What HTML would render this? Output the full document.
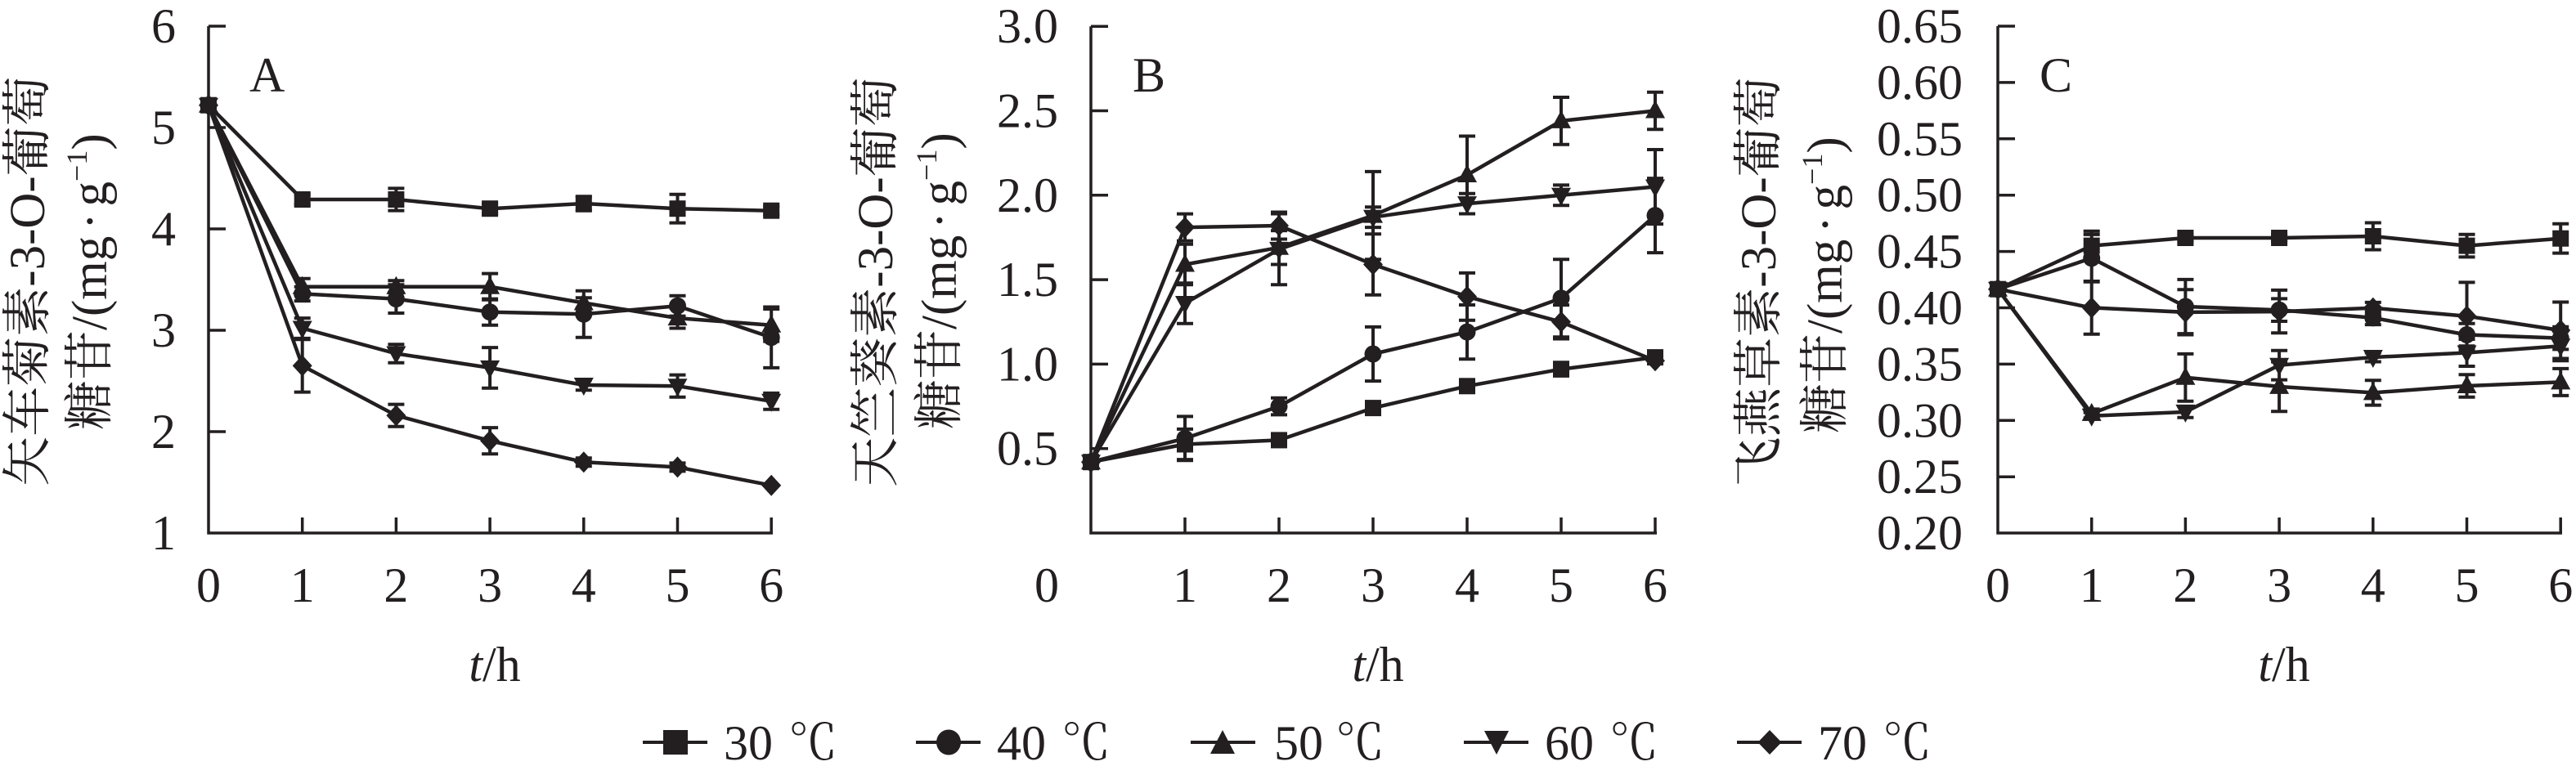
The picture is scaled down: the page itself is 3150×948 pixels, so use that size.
<!DOCTYPE html>
<html><head><meta charset="utf-8"><style>
html,body{margin:0;padding:0;background:#fff;}
svg{display:block;}
text{font-family:"Liberation Serif","Noto Serif CJK SC",serif;fill:#231f20;}
.cjk{font-family:"Liberation Serif","Noto Serif CJK SC",serif;}
</style></head><body>
<svg xmlns="http://www.w3.org/2000/svg" xmlns:xlink="http://www.w3.org/1999/xlink" width="3150" height="948" viewBox="0 0 3150 948">
<rect width="3150" height="948" fill="#fff"/>
<defs>
<rect id="m30" x="-10" y="-10" width="20" height="20" fill="#231f20"/>
<circle id="m40" r="10.5" fill="#231f20"/>
<polygon id="m50" points="0,-13 12,9 -12,9" fill="#231f20"/>
<polygon id="m60" points="0,13 12,-9 -12,-9" fill="#231f20"/>
<polygon id="m70" points="0,-13 12,0 0,13 -12,0" fill="#231f20"/>
</defs>

<!-- ================= PANEL A ================= -->
<g stroke="#231f20" stroke-width="3.5" fill="none">
<path d="M255 32V652H945"/>
<path d="M255 32h21M255 156h21M255 280h21M255 404h21M255 528h21M369.7 652v-19M484.4 652v-19M599.1 652v-19M713.8 652v-19M828.5 652v-19M943.2 652v-19"/>
</g>
<g font-size="60" text-anchor="end">
<text x="215" y="52">6</text><text x="215" y="176">5</text><text x="215" y="300">4</text><text x="215" y="424">3</text><text x="215" y="548">2</text><text x="215" y="672">1</text>
</g>
<g font-size="60" text-anchor="middle">
<text x="255" y="736">0</text><text x="369.7" y="736">1</text><text x="484.4" y="736">2</text><text x="599.1" y="736">3</text><text x="713.8" y="736">4</text><text x="828.5" y="736">5</text><text x="943.2" y="736">6</text>
<text x="605" y="833"><tspan font-style="italic">t</tspan>/h</text>
</g>
<text x="305" y="112" font-size="60">A</text>
<text transform="translate(31,344) rotate(-90)" y="23" font-size="61" text-anchor="middle" class="cjk">矢车菊素-3-O-葡萄</text>
<text transform="translate(107,526) rotate(-90)" y="23" font-size="61" class="cjk">糖苷/(mg<tspan dx="8">·</tspan><tspan dx="8">g</tspan><tspan font-size="36" dy="-24">−1</tspan><tspan dy="24">)</tspan></text>

<g stroke="#231f20" stroke-width="4.5" fill="none" stroke-linejoin="round">
<polyline points="255,128.7 369.7,244 484.4,244 599.1,255.2 713.8,249 828.5,255.2 943.2,257.7"/>
<polyline points="255,128.7 369.7,359.4 484.4,365.6 599.1,381.7 713.8,384.2 828.5,374.2 943.2,412.7"/>
<polyline points="255,128.7 369.7,350.7 484.4,350.7 599.1,350.7 713.8,370.5 828.5,389.1 943.2,397.8"/>
<polyline points="255,128.7 369.7,401.5 484.4,432.5 599.1,449.9 713.8,471 828.5,472.2 943.2,490.8"/>
<polyline points="255,128.7 369.7,447.4 484.4,508.2 599.1,539.2 713.8,565.2 828.5,571.4 943.2,593.7"/>
</g>
<path stroke="#231f20" stroke-width="4" fill="none" d="
M369.7 237.8V250.2M359.7 237.8h20M359.7 250.2h20
M484.4 230.4V257.6M474.4 230.4h20M474.4 257.6h20
M599.1 249V261.4M589.1 249h20M589.1 261.4h20
M713.8 240.3V257.7M703.8 240.3h20M703.8 257.7h20
M828.5 237.8V272.6M818.5 237.8h20M818.5 272.6h20
M943.2 252.7V262.7M933.2 252.7h20M933.2 262.7h20
M369.7 350.7V368.1M359.7 350.7h20M359.7 368.1h20
M484.4 348.2V383M474.4 348.2h20M474.4 383h20
M599.1 365.6V397.8M589.1 365.6h20M589.1 397.8h20
M713.8 355.7V412.7M703.8 355.7h20M703.8 412.7h20
M828.5 361.8V386.6M818.5 361.8h20M818.5 386.6h20
M943.2 375.5V449.9M933.2 375.5h20M933.2 449.9h20
M369.7 340.8V360.6M359.7 340.8h20M359.7 360.6h20
M484.4 343.3V358.1M474.4 343.3h20M474.4 358.1h20
M599.1 334.6V366.8M589.1 334.6h20M589.1 366.8h20
M713.8 364.3V376.7M703.8 364.3h20M703.8 376.7h20
M828.5 376.7V401.5M818.5 376.7h20M818.5 401.5h20
M943.2 378V417.6M933.2 378h20M933.2 417.6h20
M369.7 389.1V413.9M359.7 389.1h20M359.7 413.9h20
M484.4 421.3V443.7M474.4 421.3h20M474.4 443.7h20
M599.1 425.1V474.7M589.1 425.1h20M589.1 474.7h20
M713.8 464.8V477.2M703.8 464.8h20M703.8 477.2h20
M828.5 458.6V485.8M818.5 458.6h20M818.5 485.8h20
M943.2 480.9V500.7M933.2 480.9h20M933.2 500.7h20
M369.7 415.2V479.6M359.7 415.2h20M359.7 479.6h20
M484.4 494.6V521.8M474.4 494.6h20M474.4 521.8h20
M599.1 523.1V555.3M589.1 523.1h20M589.1 555.3h20
M713.8 560.2V570.2M703.8 560.2h20M703.8 570.2h20
M828.5 566.4V576.4M818.5 566.4h20M818.5 576.4h20"/>
<g>
<use href="#m30" x="255" y="128.7"/><use href="#m30" x="369.7" y="244"/><use href="#m30" x="484.4" y="244"/><use href="#m30" x="599.1" y="255.2"/><use href="#m30" x="713.8" y="249"/><use href="#m30" x="828.5" y="255.2"/><use href="#m30" x="943.2" y="257.7"/>
<use href="#m40" x="255" y="128.7"/><use href="#m40" x="369.7" y="359.4"/><use href="#m40" x="484.4" y="365.6"/><use href="#m40" x="599.1" y="381.7"/><use href="#m40" x="713.8" y="384.2"/><use href="#m40" x="828.5" y="374.2"/><use href="#m40" x="943.2" y="412.7"/>
<use href="#m50" x="255" y="128.7"/><use href="#m50" x="369.7" y="350.7"/><use href="#m50" x="484.4" y="350.7"/><use href="#m50" x="599.1" y="350.7"/><use href="#m50" x="713.8" y="370.5"/><use href="#m50" x="828.5" y="389.1"/><use href="#m50" x="943.2" y="397.8"/>
<use href="#m60" x="255" y="128.7"/><use href="#m60" x="369.7" y="401.5"/><use href="#m60" x="484.4" y="432.5"/><use href="#m60" x="599.1" y="449.9"/><use href="#m60" x="713.8" y="471"/><use href="#m60" x="828.5" y="472.2"/><use href="#m60" x="943.2" y="490.8"/>
<use href="#m70" x="255" y="128.7"/><use href="#m70" x="369.7" y="447.4"/><use href="#m70" x="484.4" y="508.2"/><use href="#m70" x="599.1" y="539.2"/><use href="#m70" x="713.8" y="565.2"/><use href="#m70" x="828.5" y="571.4"/><use href="#m70" x="943.2" y="593.7"/>
</g>

<!-- ================= PANEL B ================= -->
<g stroke="#231f20" stroke-width="3.5" fill="none">
<path d="M1334 32.2V652H2026"/>
<path d="M1334 32.2h21M1334 135.5h21M1334 238.8h21M1334 342.1h21M1334 445.4h21M1334 548.7h21M1449 652v-19M1564 652v-19M1679 652v-19M1794 652v-19M1909 652v-19M2024 652v-19"/>
</g>
<g font-size="60" text-anchor="end">
<text x="1294" y="52.2">3.0</text><text x="1294" y="155.5">2.5</text><text x="1294" y="258.8">2.0</text><text x="1294" y="362.1">1.5</text><text x="1294" y="465.4">1.0</text><text x="1294" y="568.7">0.5</text>
</g>
<g font-size="60" text-anchor="middle">
<text x="1280" y="736">0</text><text x="1449" y="736">1</text><text x="1564" y="736">2</text><text x="1679" y="736">3</text><text x="1794" y="736">4</text><text x="1909" y="736">5</text><text x="2024" y="736">6</text>
<text x="1685" y="833"><tspan font-style="italic">t</tspan>/h</text>
</g>
<text x="1385" y="112" font-size="60">B</text>
<text transform="translate(1068,345) rotate(-90)" y="23" font-size="61" text-anchor="middle" class="cjk">天竺葵素-3-O-葡萄</text>
<text transform="translate(1146,525) rotate(-90)" y="23" font-size="61" class="cjk">糖苷/(mg<tspan dx="8">·</tspan><tspan dx="8">g</tspan><tspan font-size="36" dy="-24">−1</tspan><tspan dy="24">)</tspan></text>

<g stroke="#231f20" stroke-width="4.5" fill="none" stroke-linejoin="round">
<polyline points="1334,565.2 1449,543.5 1564,538.4 1679,499.1 1794,472.3 1909,451.6 2024,437.1"/>
<polyline points="1334,565.2 1449,536.3 1564,497.1 1679,433 1794,406.1 1909,364.8 2024,263.6"/>
<polyline points="1334,565.2 1449,323.5 1564,302.8 1679,263.6 1794,214 1909,147.9 2024,135.5"/>
<polyline points="1334,565.2 1449,371 1564,304.9 1679,265.7 1794,249.1 1909,238.8 2024,228.5"/>
<polyline points="1334,565.2 1449,278.1 1564,276 1679,323.5 1794,362.8 1909,393.8 2024,441.3"/>
</g>
<path stroke="#231f20" stroke-width="4" fill="none" d="
M1449 524.9V562.1M1439 524.9h20M1439 562.1h20
M1564 532.2V544.6M1554 532.2h20M1554 544.6h20
M1679 492.9V505.3M1669 492.9h20M1669 505.3h20
M1794 466.1V478.5M1784 466.1h20M1784 478.5h20
M1909 443.3V459.9M1899 443.3h20M1899 459.9h20
M2024 430.9V443.3M2014 430.9h20M2014 443.3h20
M1449 509.4V563.2M1439 509.4h20M1439 563.2h20
M1564 486.8V507.4M1554 486.8h20M1554 507.4h20
M1679 399.9V466.1M1669 399.9h20M1669 466.1h20
M1794 373V439.2M1784 373h20M1784 439.2h20
M1909 317.3V412.3M1899 317.3h20M1899 412.3h20
M2024 218.1V309.1M2014 218.1h20M2014 309.1h20
M1449 298.7V348.3M1439 298.7h20M1439 348.3h20
M1564 282.1V323.5M1554 282.1h20M1554 323.5h20
M1679 209.9V317.3M1669 209.9h20M1669 317.3h20
M1794 166.5V261.5M1784 166.5h20M1784 261.5h20
M1909 119V176.8M1899 119h20M1899 176.8h20
M2024 112.8V158.2M2014 112.8h20M2014 158.2h20
M1449 346.2V395.8M1439 346.2h20M1439 395.8h20
M1564 261.5V348.3M1554 261.5h20M1554 348.3h20
M1679 253.3V278.1M1669 253.3h20M1669 278.1h20
M1794 236.7V261.5M1784 236.7h20M1784 261.5h20
M1909 226.4V251.2M1899 226.4h20M1899 251.2h20
M2024 183V274M2014 183h20M2014 274h20
M1449 261.6V294.6M1439 261.6h20M1439 294.6h20
M1564 259.5V292.5M1554 259.5h20M1554 292.5h20
M1679 286.3V360.7M1669 286.3h20M1669 360.7h20
M1794 333.9V391.7M1784 333.9h20M1784 391.7h20
M1909 373.1V414.5M1899 373.1h20M1899 414.5h20"/>
<g>
<use href="#m30" x="1334" y="565.2"/><use href="#m30" x="1449" y="543.5"/><use href="#m30" x="1564" y="538.4"/><use href="#m30" x="1679" y="499.1"/><use href="#m30" x="1794" y="472.3"/><use href="#m30" x="1909" y="451.6"/><use href="#m30" x="2024" y="437.1"/>
<use href="#m40" x="1334" y="565.2"/><use href="#m40" x="1449" y="536.3"/><use href="#m40" x="1564" y="497.1"/><use href="#m40" x="1679" y="433"/><use href="#m40" x="1794" y="406.1"/><use href="#m40" x="1909" y="364.8"/><use href="#m40" x="2024" y="263.6"/>
<use href="#m50" x="1334" y="565.2"/><use href="#m50" x="1449" y="323.5"/><use href="#m50" x="1564" y="302.8"/><use href="#m50" x="1679" y="263.6"/><use href="#m50" x="1794" y="214"/><use href="#m50" x="1909" y="147.9"/><use href="#m50" x="2024" y="135.5"/>
<use href="#m60" x="1334" y="565.2"/><use href="#m60" x="1449" y="371"/><use href="#m60" x="1564" y="304.9"/><use href="#m60" x="1679" y="265.7"/><use href="#m60" x="1794" y="249.1"/><use href="#m60" x="1909" y="238.8"/><use href="#m60" x="2024" y="228.5"/>
<use href="#m70" x="1334" y="565.2"/><use href="#m70" x="1449" y="278.1"/><use href="#m70" x="1564" y="276"/><use href="#m70" x="1679" y="323.5"/><use href="#m70" x="1794" y="362.8"/><use href="#m70" x="1909" y="393.8"/><use href="#m70" x="2024" y="441.3"/>
</g>

<!-- ================= PANEL C ================= -->
<g stroke="#231f20" stroke-width="3.5" fill="none">
<path d="M2443 32V652H3133"/>
<path d="M2443 32h21M2443 100.9h21M2443 169.8h21M2443 238.7h21M2443 307.6h21M2443 376.5h21M2443 445.4h21M2443 514.3h21M2443 583.2h21M2557.7 652v-19M2672.4 652v-19M2787.1 652v-19M2901.8 652v-19M3016.5 652v-19M3131.2 652v-19"/>
</g>
<g font-size="60" text-anchor="end">
<text x="2400" y="52">0.65</text><text x="2400" y="120.9">0.60</text><text x="2400" y="189.8">0.55</text><text x="2400" y="258.7">0.50</text><text x="2400" y="327.6">0.45</text><text x="2400" y="396.5">0.40</text><text x="2400" y="465.4">0.35</text><text x="2400" y="534.3">0.30</text><text x="2400" y="603.2">0.25</text><text x="2400" y="672">0.20</text>
</g>
<g font-size="60" text-anchor="middle">
<text x="2443" y="736">0</text><text x="2557.7" y="736">1</text><text x="2672.4" y="736">2</text><text x="2787.1" y="736">3</text><text x="2901.8" y="736">4</text><text x="3016.5" y="736">5</text><text x="3131.2" y="736">6</text>
<text x="2793" y="833"><tspan font-style="italic">t</tspan>/h</text>
</g>
<text x="2494" y="112" font-size="60">C</text>
<text transform="translate(2148,345) rotate(-90)" y="23" font-size="61" text-anchor="middle" class="cjk">飞燕草素-3-O-葡萄</text>
<text transform="translate(2229,530) rotate(-90)" y="23" font-size="61" class="cjk">糖苷/(mg<tspan dx="8">·</tspan><tspan dx="8">g</tspan><tspan font-size="36" dy="-24">−1</tspan><tspan dy="24">)</tspan></text>

<g stroke="#231f20" stroke-width="4.5" fill="none" stroke-linejoin="round">
<polyline points="2443,353.7 2557.7,300.6 2672.4,291 2787.1,291 2901.8,289 3016.5,300.6 3131.2,291.7"/>
<polyline points="2443,353.7 2557.7,315.8 2672.4,375 2787.1,379.2 2901.8,388.8 3016.5,409.5 3131.2,413.6"/>
<polyline points="2443,353.7 2557.7,505.9 2672.4,461.8 2787.1,472.9 2901.8,480.4 3016.5,472 3131.2,467.4"/>
<polyline points="2443,353.7 2557.7,508.7 2672.4,503.9 2787.1,446.7 2901.8,437 3016.5,431.5 3131.2,423.3"/>
<polyline points="2443,353.7 2557.7,376.4 2672.4,381.9 2787.1,381.1 2901.8,376.8 3016.5,386.7 3131.2,404"/>
</g>
<path stroke="#231f20" stroke-width="4" fill="none" d="
M2557.7 282.7V318.5M2547.7 282.7h20M2547.7 318.5h20
M2672.4 286.9V295.1M2662.4 286.9h20M2662.4 295.1h20
M2787.1 286.9V295.1M2777.1 286.9h20M2777.1 295.1h20
M2901.8 272.5V305.5M2891.8 272.5h20M2891.8 305.5h20
M3016.5 286.8V314.4M3006.5 286.8h20M3006.5 314.4h20
M3131.2 273.8V309.6M3121.2 273.8h20M3121.2 309.6h20
M2557.7 286.9V344.7M2547.7 286.9h20M2547.7 344.7h20
M2672.4 341.9V408.1M2662.4 341.9h20M2662.4 408.1h20
M2787.1 365.4V393M2777.1 365.4h20M2777.1 393h20
M2901.8 380.5V397.1M2891.8 380.5h20M2891.8 397.1h20
M3016.5 395.7V423.3M3006.5 395.7h20M3006.5 423.3h20
M3131.2 399.8V427.4M3121.2 399.8h20M3121.2 427.4h20
M2557.7 500.4V511.4M2547.7 500.4h20M2547.7 511.4h20
M2672.4 432.9V490.7M2662.4 432.9h20M2662.4 490.7h20
M2787.1 442.6V503.2M2777.1 442.6h20M2777.1 503.2h20
M2901.8 465.2V495.6M2891.8 465.2h20M2891.8 495.6h20
M3016.5 458.2V485.8M3006.5 458.2h20M3006.5 485.8h20
M3131.2 450.9V483.9M3121.2 450.9h20M3121.2 483.9h20
M2557.7 504.6V512.8M2547.7 504.6h20M2547.7 512.8h20
M2672.4 497V510.8M2662.4 497h20M2662.4 510.8h20
M2787.1 428.8V464.6M2777.1 428.8h20M2777.1 464.6h20
M2901.8 431.5V442.5M2891.8 431.5h20M2891.8 442.5h20
M3016.5 415V448M3006.5 415h20M3006.5 448h20
M3131.2 405.4V441.2M3121.2 405.4h20M3121.2 441.2h20
M2557.7 344V408.8M2547.7 344h20M2547.7 408.8h20
M2672.4 354.3V409.5M2662.4 354.3h20M2662.4 409.5h20
M2787.1 354.9V407.3M2777.1 354.9h20M2777.1 407.3h20
M2901.8 369.9V383.7M2891.8 369.9h20M2891.8 383.7h20
M3016.5 345.4V428M3006.5 345.4h20M3006.5 428h20
M3131.2 369.5V438.5M3121.2 369.5h20M3121.2 438.5h20"/>
<g>
<use href="#m30" x="2443" y="353.7"/><use href="#m30" x="2557.7" y="300.6"/><use href="#m30" x="2672.4" y="291"/><use href="#m30" x="2787.1" y="291"/><use href="#m30" x="2901.8" y="289"/><use href="#m30" x="3016.5" y="300.6"/><use href="#m30" x="3131.2" y="291.7"/>
<use href="#m40" x="2443" y="353.7"/><use href="#m40" x="2557.7" y="315.8"/><use href="#m40" x="2672.4" y="375"/><use href="#m40" x="2787.1" y="379.2"/><use href="#m40" x="2901.8" y="388.8"/><use href="#m40" x="3016.5" y="409.5"/><use href="#m40" x="3131.2" y="413.6"/>
<use href="#m50" x="2443" y="353.7"/><use href="#m50" x="2557.7" y="505.9"/><use href="#m50" x="2672.4" y="461.8"/><use href="#m50" x="2787.1" y="472.9"/><use href="#m50" x="2901.8" y="480.4"/><use href="#m50" x="3016.5" y="472"/><use href="#m50" x="3131.2" y="467.4"/>
<use href="#m60" x="2443" y="353.7"/><use href="#m60" x="2557.7" y="508.7"/><use href="#m60" x="2672.4" y="503.9"/><use href="#m60" x="2787.1" y="446.7"/><use href="#m60" x="2901.8" y="437"/><use href="#m60" x="3016.5" y="431.5"/><use href="#m60" x="3131.2" y="423.3"/>
<use href="#m70" x="2443" y="353.7"/><use href="#m70" x="2557.7" y="376.4"/><use href="#m70" x="2672.4" y="381.9"/><use href="#m70" x="2787.1" y="381.1"/><use href="#m70" x="2901.8" y="376.8"/><use href="#m70" x="3016.5" y="386.7"/><use href="#m70" x="3131.2" y="404"/>
</g>

<!-- ================= LEGEND ================= -->
<g stroke="#231f20" stroke-width="4">
<path d="M786 908h79M1120 908h79M1456 908h79M1790 908h79M2124 908h79"/>
</g>
<g fill="#231f20">
<rect x="811" y="893" width="30" height="30"/>
<ellipse cx="1160" cy="908" rx="15" ry="15.5"/>
<polygon points="1495,893 1510,922 1480,922"/>
<polygon points="1830,923 1845,894 1815,894"/>
<polygon points="2164,893 2178.5,908 2164,923 2149.5,908"/>
</g>
<g font-size="60">
<text x="885" y="929">30<tspan x="964" class="cjk">℃</tspan></text>
<text x="1219" y="929">40<tspan x="1298" class="cjk">℃</tspan></text>
<text x="1558" y="929">50<tspan x="1633" class="cjk">℃</tspan></text>
<text x="1889" y="929">60<tspan x="1968" class="cjk">℃</tspan></text>
<text x="2223" y="929">70<tspan x="2302" class="cjk">℃</tspan></text>
</g>
</svg>
</body></html>
